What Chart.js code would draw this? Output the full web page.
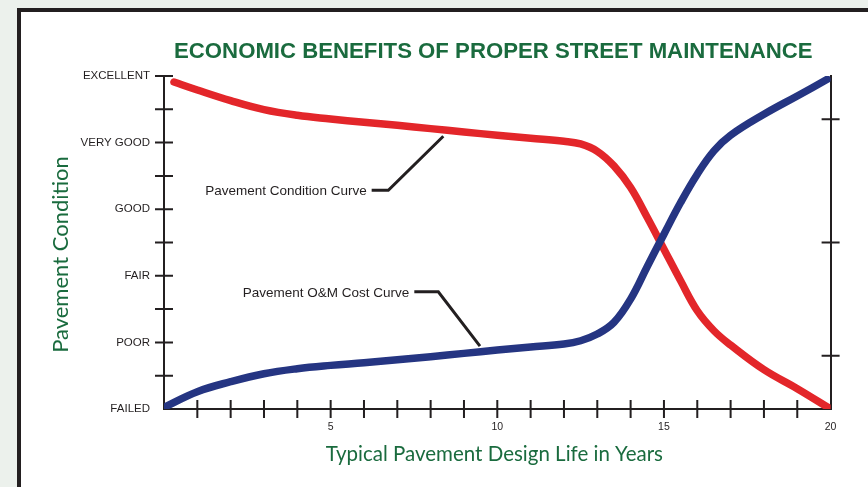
<!DOCTYPE html>
<html lang="en">
<head>
<meta charset="UTF-8">
<title>Economic Benefits of Proper Street Maintenance</title>
<script src="https://cdn.jsdelivr.net/npm/chart.js"></script>
<style>
  html, body { margin: 0; padding: 0; width: 868px; height: 487px; overflow: hidden; background: #ecf1ec; }
  .frame { position: absolute; left: 17px; top: 8px; width: 900px; height: 520px; background: #fff;
           border-left: 4.5px solid #231f20; border-top: 4.5px solid #231f20; }
  #chart { position: absolute; left: 0; top: 0; }
</style>
</head>
<body>
<div class="frame"></div>
<canvas id="chart" width="868" height="487"></canvas>
<script>
// condition rating: 0 = failed ... 10 = excellent
const conditionYears  = [0.3, 1, 2, 3, 4, 5, 6, 7, 8, 9, 10, 11, 12, 12.5, 13, 13.5, 14, 14.5, 15, 15.5, 16, 16.5, 17, 18, 19, 20];
const conditionValues = [9.82, 9.58, 9.26, 8.99, 8.82, 8.71, 8.61, 8.52, 8.42, 8.32, 8.22, 8.13, 8.04, 7.96, 7.74, 7.3, 6.65, 5.75, 4.8, 3.85, 2.95, 2.35, 1.92, 1.18, 0.61, 0.0];

const costYears  = [0, 1, 2, 3, 4, 5, 6, 7, 8, 9, 10, 11, 12, 12.5, 13, 13.5, 14, 14.5, 15, 15.5, 16, 16.5, 17, 18, 19, 19.9];
const costValues = [0.05, 0.52, 0.82, 1.06, 1.21, 1.31, 1.39, 1.48, 1.57, 1.67, 1.77, 1.86, 1.95, 2.05, 2.25, 2.6, 3.3, 4.28, 5.25, 6.2, 7.05, 7.75, 8.22, 8.85, 9.4, 9.9];

const ratingLabels = ['FAILED', 'POOR', 'FAIR', 'GOOD', 'VERY GOOD', 'EXCELLENT'];
const yearLabels = [5, 10, 15, 20];
const costAxisTicks = [1.6, 5, 8.7];

const INK = '#231f20';
const GREEN = '#1a6b3e';

// callout text + leader lines, in data units
const callouts = [
  { text: 'Pavement Condition Curve', at: [6.08, 6.57], elbow: [6.73, 6.57], tip: [8.38, 8.19] },
  { text: 'Pavement O&M Cost Curve',  at: [7.36, 3.52], elbow: [8.23, 3.52], tip: [9.48, 1.89] }
];

const decorations = {
  id: 'decorations',
  beforeDatasetsDraw(chart) {
    const { ctx, scales: { x, y, y2 } } = chart;
    ctx.save();
    ctx.strokeStyle = INK;
    ctx.lineWidth = 2;
    ctx.beginPath();
    x.ticks.forEach(t => {
      if (t.value > 0 && t.value < 20) {
        const px = x.getPixelForValue(t.value);
        ctx.moveTo(px, x.top - 9);
        ctx.lineTo(px, x.top + 9);
      }
    });
    y.ticks.forEach(t => {
      if (t.value > 0) {
        const py = y.getPixelForValue(t.value);
        ctx.moveTo(y.right - 9, py);
        ctx.lineTo(y.right + 9, py);
      }
    });
    y2.ticks.forEach(t => {
      const py = y2.getPixelForValue(t.value);
      ctx.moveTo(y2.left - 9, py);
      ctx.lineTo(y2.left + 9, py);
    });
    ctx.stroke();
    ctx.restore();
  },
  afterDraw(chart) {
    const { ctx, chartArea: a, scales: { x, y } } = chart;
    ctx.save();

    // callouts
    ctx.font = '13.5px "Liberation Sans", Arial, sans-serif';
    ctx.fillStyle = INK;
    ctx.strokeStyle = INK;
    ctx.lineWidth = 3;
    ctx.textAlign = 'right';
    ctx.textBaseline = 'alphabetic';
    callouts.forEach(c => {
      const tx = x.getPixelForValue(c.at[0]);
      const ty = y.getPixelForValue(c.at[1]);
      ctx.fillText(c.text, tx, ty + 5);
      ctx.beginPath();
      ctx.moveTo(tx + 5, ty);
      ctx.lineTo(x.getPixelForValue(c.elbow[0]), y.getPixelForValue(c.elbow[1]));
      ctx.lineTo(x.getPixelForValue(c.tip[0]), y.getPixelForValue(c.tip[1]));
      ctx.stroke();
    });

    // main title
    ctx.fillStyle = GREEN;
    ctx.textAlign = 'center';
    ctx.font = 'bold 22.2px "Liberation Sans", Arial, sans-serif';
    ctx.fillText('ECONOMIC BENEFITS OF PROPER STREET MAINTENANCE', (a.left + a.right) / 2 - 4, a.top - 18.3);

    // axis titles
    ctx.font = '20.5px Lato, sans-serif';
    ctx.fillText('Typical Pavement Design Life in Years', (a.left + a.right) / 2 - 3, a.bottom + 51.7);
    ctx.font = '22px Lato, sans-serif';
    ctx.translate(a.left - 95.7, (a.top + a.bottom) / 2 + 12);
    ctx.rotate(-Math.PI / 2);
    ctx.fillText('Pavement Condition', 0, 0);
    ctx.restore();
  }
};

new Chart(document.getElementById('chart'), {
  type: 'line',
  data: {
    datasets: [
      {
        label: 'Pavement O&M Cost Curve',
        data: costYears.map((yr, i) => ({ x: yr, y: costValues[i] })),
        borderColor: '#253582',
        order: 0
      },
      {
        label: 'Pavement Condition Curve',
        data: conditionYears.map((yr, i) => ({ x: yr, y: conditionValues[i] })),
        borderColor: '#e3262a',
        order: 1
      }
    ]
  },
  options: {
    responsive: false,
    animation: false,
    layout: { padding: { left: 0, top: 76, right: 37.4, bottom: 0 } },
    elements: {
      line: { borderWidth: 7.5, borderCapStyle: 'round', borderJoinStyle: 'round', tension: 0.4, fill: false },
      point: { radius: 0 }
    },
    plugins: { legend: { display: false }, tooltip: { enabled: false } },
    scales: {
      x: {
        type: 'linear', min: 0, max: 20,
        grid: { display: false, drawTicks: false },
        border: { display: true, color: INK, width: 2 },
        ticks: {
          stepSize: 1, autoSkip: false, maxRotation: 0, padding: 12,
          color: INK, font: { family: '"Liberation Sans", Arial, sans-serif', size: 10.5 },
          callback: v => yearLabels.includes(v) ? String(v) : ''
        },
        afterFit: s => { s.height = 78; }
      },
      y: {
        min: 0, max: 10,
        grid: { display: false, drawTicks: false },
        border: { display: true, color: INK, width: 2 },
        ticks: {
          stepSize: 1, autoSkip: false, padding: 14,
          color: INK, font: { family: '"Liberation Sans", Arial, sans-serif', size: 11.5 },
          callback: v => v % 2 === 0 ? ratingLabels[v / 2] : ''
        },
        afterFit: s => { s.width = 164; }
      },
      y2: {
        position: 'right', min: 0, max: 10,
        grid: { display: false, drawTicks: false },
        border: { display: true, color: INK, width: 2 },
        ticks: { display: false },
        afterBuildTicks: s => { s.ticks = costAxisTicks.map(v => ({ value: v })); },
        afterFit: s => { s.width = 0; }
      }
    }
  },
  plugins: [decorations]
});
</script>
</body>
</html>
